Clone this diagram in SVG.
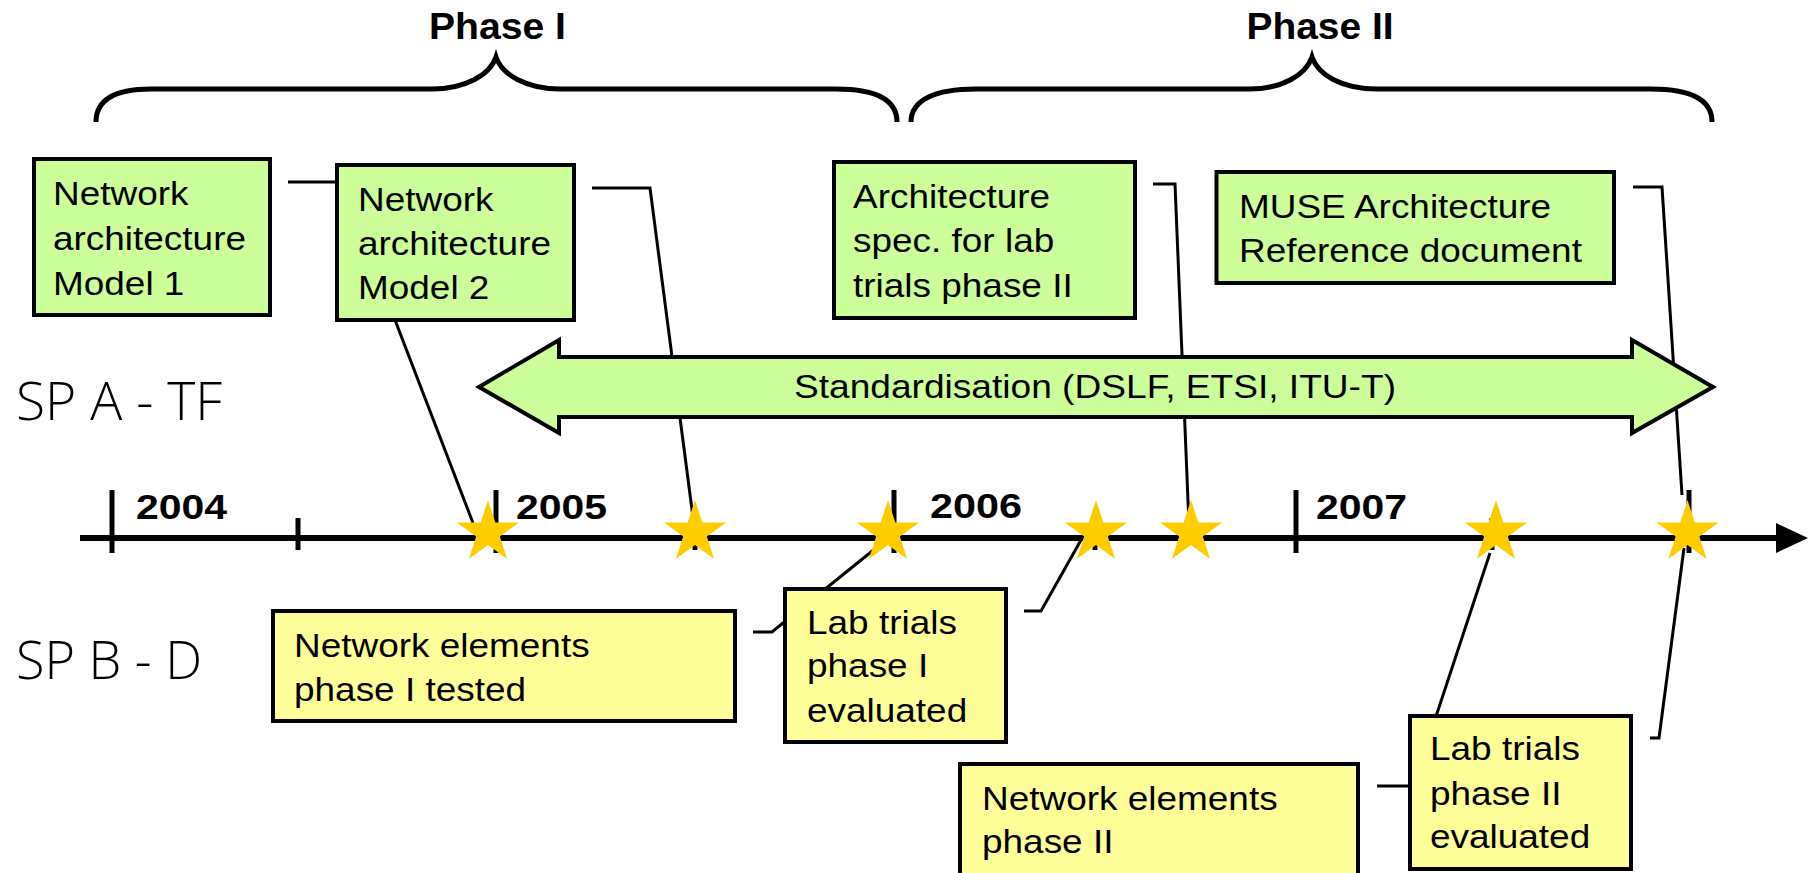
<svg xmlns="http://www.w3.org/2000/svg" xmlns:xlink="http://www.w3.org/1999/xlink" width="1813" height="873" viewBox="0 0 1813 873">
  <style>
    .brace { fill: none; stroke: #000; stroke-width: 5; }
    .phase { font-family: "Liberation Sans", Arial, sans-serif; font-weight: bold; font-size: 36px; fill: #000; }
    .lane { font-family: "Open Sans", "Liberation Sans", sans-serif; font-weight: 300; font-size: 54px; fill: #000; }
    .year { font-family: "Liberation Sans", Arial, sans-serif; font-weight: bold; font-size: 35px; fill: #000; }
    .box-g { fill: #CCFF99; stroke: #000; stroke-width: 4; }
    .box-y { fill: #FFFF99; stroke: #000; stroke-width: 4; }
    .label { font-family: "Liberation Sans", Arial, sans-serif; font-size: 33px; fill: #000; }
    .conn { fill: none; stroke: #000; stroke-width: 3; stroke-linejoin: miter; }
    .axis { stroke: #000; stroke-width: 6; }
    .tick { stroke: #000; stroke-width: 5; }
    .star { fill: #FFCC00; }
  </style>
  <defs>
    <!-- five-pointed milestone star centred on 0,0 -->
    <polygon id="star" points="0,-32.6 7.32,-10.07 31,-10.07 11.84,3.85 19.16,26.37 0,12.45 -19.16,26.37 -11.84,3.85 -31,-10.07 -7.32,-10.07"/>
  </defs>

  <rect width="1813" height="873" fill="#fff"/>

  <!-- phase braces -->
  <g id="phase-1">
    <path class="brace" d="M96,122 C96,100 115,89 151,89 L432,89 C465,89 490,75 496,57 C502,75 527,89 560,89 L836,89 C877,89 897,100 897,122"/>
    <text class="phase" x="497.5" y="39" text-anchor="middle" textLength="137" lengthAdjust="spacingAndGlyphs">Phase I</text>
  </g>
  <g id="phase-2">
    <path class="brace" d="M911,122 C911,100 935,89 976,89 L1249,89 C1282,89 1306,75 1312,57 C1318,75 1342,89 1377,89 L1651,89 C1692,89 1712,100 1712,122"/>
    <text class="phase" x="1320" y="39" text-anchor="middle" textLength="147" lengthAdjust="spacingAndGlyphs">Phase II</text>
  </g>

  <!-- swim-lane labels -->
  <g id="lane-a">
    <text class="lane" x="16" y="420" textLength="206" lengthAdjust="spacingAndGlyphs">SP A - TF</text>
  </g>
  <g id="lane-b">
    <text class="lane" x="16" y="679" textLength="186" lengthAdjust="spacingAndGlyphs">SP B - D</text>
  </g>

  <!-- callout connectors from boxes to milestones -->
  <g id="connectors">
    <polyline class="conn" points="288,182 342,182 473,523"/>
    <polyline class="conn" points="592,188 650,188 694,525"/>
    <polyline class="conn" points="1153,184 1175,184 1189,525"/>
    <polyline class="conn" points="1633,187 1662,187 1682,495"/>
    <polyline class="conn" points="753,632 772,632 876,548"/>
    <polyline class="conn" points="1024,611 1041,611 1081,540"/>
    <polyline class="conn" points="1377,786 1413,786 1490,553"/>
    <polyline class="conn" points="1650,738 1659,738 1684,548"/>
  </g>

  <!-- time axis -->
  <g id="timeline">
    <line class="axis" x1="80" y1="538" x2="1780" y2="538"/>
    <polygon points="1776,523 1808,538 1776,553" fill="#000"/>
    <line class="tick" x1="112" y1="490" x2="112" y2="553"/>
    <line class="tick" x1="496" y1="490" x2="496" y2="553"/>
    <line class="tick" x1="894" y1="490" x2="894" y2="553"/>
    <line class="tick" x1="1296" y1="490" x2="1296" y2="553"/>
    <line class="tick" x1="1689" y1="490" x2="1689" y2="553"/>
    <line class="tick" x1="298" y1="518" x2="298" y2="550"/>
    <line class="tick" x1="695" y1="518" x2="695" y2="550"/>
    <line class="tick" x1="1095" y1="518" x2="1095" y2="550"/>
    <line class="tick" x1="1492" y1="518" x2="1492" y2="550"/>
    <text class="year" x="136" y="519" textLength="91" lengthAdjust="spacingAndGlyphs">2004</text>
    <text class="year" x="516" y="519" textLength="91" lengthAdjust="spacingAndGlyphs">2005</text>
    <text class="year" x="930" y="518" textLength="92" lengthAdjust="spacingAndGlyphs">2006</text>
    <text class="year" x="1316" y="519" textLength="91" lengthAdjust="spacingAndGlyphs">2007</text>
  </g>

  <!-- standardisation double arrow -->
  <g id="standardisation">
    <polygon class="box-g" points="479,387 559,340 559,357 1632,357 1632,340 1713,387 1632,433 1632,417 559,417 559,433"/>
    <text class="label" x="1095" y="398" text-anchor="middle" font-size="36" textLength="602" lengthAdjust="spacingAndGlyphs">Standardisation (DSLF, ETSI, ITU-T)</text>
  </g>

  <!-- milestone boxes, lane A -->
  <g id="net-arch-model-1">
    <rect class="box-g" x="34" y="159" width="236" height="156"/>
    <text class="label" transform="matrix(1.12 0 0 1 53 0)"><tspan x="0" y="205">Network</tspan><tspan x="0" y="250">architecture</tspan><tspan x="0" y="295">Model 1</tspan></text>
  </g>
  <g id="net-arch-model-2">
    <rect class="box-g" x="337" y="165" width="237" height="155"/>
    <text class="label" transform="matrix(1.12 0 0 1 358 0)"><tspan x="0" y="211">Network</tspan><tspan x="0" y="255">architecture</tspan><tspan x="0" y="299">Model 2</tspan></text>
  </g>
  <g id="arch-spec-lab-trials">
    <rect class="box-g" x="834" y="162" width="301" height="156"/>
    <text class="label" transform="matrix(1.12 0 0 1 853 0)"><tspan x="0" y="208">Architecture</tspan><tspan x="0" y="252">spec. for lab</tspan><tspan x="0" y="297">trials phase II</tspan></text>
  </g>
  <g id="muse-arch-reference">
    <rect class="box-g" x="1216.5" y="172" width="397.5" height="111"/>
    <text class="label" transform="matrix(1.12 0 0 1 1239 0)"><tspan x="0" y="218">MUSE Architecture</tspan><tspan x="0" y="262">Reference document</tspan></text>
  </g>

  <!-- milestone boxes, lane B -->
  <g id="net-elements-phase-1">
    <rect class="box-y" x="273" y="611" width="462" height="110"/>
    <text class="label" transform="matrix(1.12 0 0 1 294 0)"><tspan x="0" y="657">Network elements</tspan><tspan x="0" y="701">phase I tested</tspan></text>
  </g>
  <g id="lab-trials-phase-1">
    <rect class="box-y" x="785" y="589" width="221" height="153"/>
    <text class="label" transform="matrix(1.12 0 0 1 807 0)"><tspan x="0" y="634">Lab trials</tspan><tspan x="0" y="677">phase I</tspan><tspan x="0" y="722">evaluated</tspan></text>
  </g>
  <g id="net-elements-phase-2">
    <rect class="box-y" x="960" y="764" width="398" height="120"/>
    <text class="label" transform="matrix(1.12 0 0 1 982 0)"><tspan x="0" y="810">Network elements</tspan><tspan x="0" y="853">phase II</tspan></text>
  </g>
  <g id="lab-trials-phase-2">
    <rect class="box-y" x="1410" y="716" width="221" height="153"/>
    <text class="label" transform="matrix(1.12 0 0 1 1430 0)"><tspan x="0" y="760">Lab trials</tspan><tspan x="0" y="805">phase II</tspan><tspan x="0" y="848">evaluated</tspan></text>
  </g>

  <!-- milestones on the axis -->
  <g id="milestones">
    <use class="star" xlink:href="#star" x="488" y="532.6"/>
    <use class="star" xlink:href="#star" x="695" y="532.6"/>
    <use class="star" xlink:href="#star" x="888" y="532.6"/>
    <use class="star" xlink:href="#star" x="1096" y="532.6"/>
    <use class="star" xlink:href="#star" x="1191" y="532.6"/>
    <use class="star" xlink:href="#star" x="1496" y="532.6"/>
    <use class="star" xlink:href="#star" x="1687.5" y="532.6"/>
  </g>
</svg>
